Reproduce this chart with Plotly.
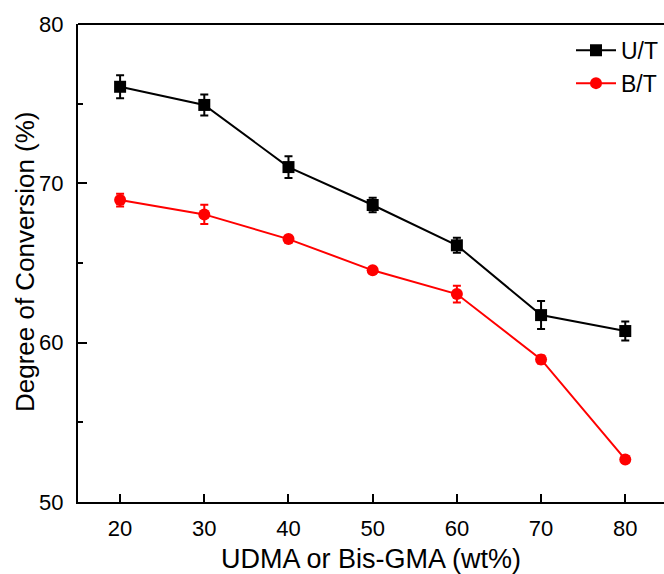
import plotly.graph_objects as go

x_vals = [20, 30, 40, 50, 60, 70, 80]
ut_vals = [76.06, 74.92, 71.02, 68.64, 66.11, 61.73, 60.73]
ut_err = [0.72, 0.66, 0.68, 0.46, 0.47, 0.88, 0.60]
bt_vals = [68.95, 68.05, 66.50, 64.54, 63.05, 58.95, 52.67]
bt_err = [0.40, 0.60, 0.15, 0.12, 0.53, 0.25, 0.20]
x_ticks = [20, 30, 40, 50, 60, 70, 80]
y_ticks = [50, 60, 70, 80]

FONT = "Liberation Sans, Arial, sans-serif"

fig = go.Figure()
fig.add_trace(go.Scatter(
    x=x_vals, y=ut_vals, name="U/T", mode="lines+markers",
    line=dict(color="black", width=2),
    marker=dict(symbol="square", size=12, color="black"),
    error_y=dict(type="data", array=ut_err, visible=True, color="black", thickness=2, width=4),
))
fig.add_trace(go.Scatter(
    x=x_vals, y=bt_vals, name="B/T", mode="lines+markers",
    line=dict(color="red", width=2),
    marker=dict(symbol="circle", size=12, color="red"),
    error_y=dict(type="data", array=bt_err, visible=True, color="red", thickness=2, width=4),
))

fig.update_layout(
    width=664, height=574,
    margin=dict(l=78, r=0, t=24, b=72),
    paper_bgcolor="white", plot_bgcolor="white",
    font=dict(family=FONT, color="black", size=21),
    showlegend=True,
    legend=dict(x=1.0, y=0.99, xanchor="right", yanchor="top",
                bgcolor="rgba(0,0,0,0)", font=dict(size=23), tracegroupgap=0,
                itemwidth=40),
    xaxis=dict(range=[15, 84.6], tickvals=x_ticks, ticks="inside", ticklen=8,
               tickwidth=2, tickcolor="black", showline=True, linecolor="black",
               linewidth=2, showgrid=False, zeroline=False,
               tickfont=dict(size=22), ticklabelstandoff=6,
               title=dict(text="UDMA or Bis-GMA (wt%)", font=dict(size=27), standoff=14)),
    yaxis=dict(range=[50, 80], tickvals=y_ticks, ticks="inside", ticklen=9,
               tickwidth=2, tickcolor="black", showline=True, linecolor="black",
               linewidth=2, showgrid=False, zeroline=False,
               tickfont=dict(size=22), ticklabelstandoff=8),
)
fig.add_annotation(text="Degree of Conversion (%)", xref="paper", yref="paper",
                   x=(25 - 78) / 586, y=0.502, textangle=-90, showarrow=False,
                   font=dict(size=26), xanchor="center", yanchor="middle")
fig.update_yaxes(minor=dict(tickvals=[55, 65, 75], ticks="inside", ticklen=5,
                            tickwidth=2, tickcolor="black", showgrid=False))
fig.add_shape(type="line", xref="paper", yref="paper", x0=0, x1=1, y0=1, y1=1,
              line=dict(color="black", width=2))

fig.write_html("out.html")
